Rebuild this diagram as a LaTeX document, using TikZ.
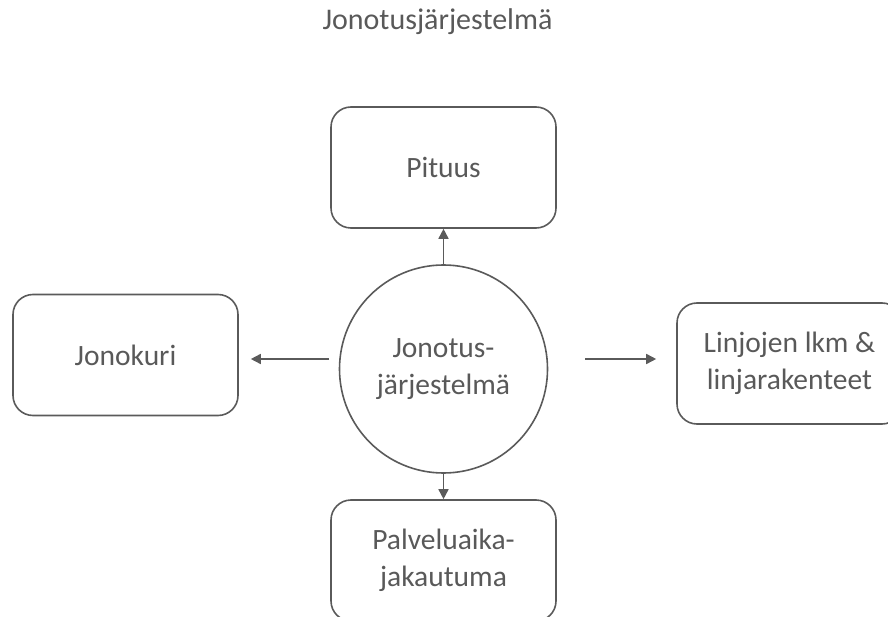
\documentclass[tikz,border=0pt]{standalone}
\usepackage{fontspec}
\setmainfont{Carlito}
\usetikzlibrary{arrows.meta}
\definecolor{linegray}{HTML}{5A5A5A}
\definecolor{textgray}{HTML}{595959}

\begin{document}
\begin{tikzpicture}[x=1pt, y=-1pt,
    box/.style={draw=linegray, line width=1.6pt, rounded corners=20pt,
                minimum width=225pt, minimum height=121pt, align=center,
                text=textgray, font=\fontsize{29.5}{37}\selectfont},
    hub/.style={draw=linegray, line width=1.6pt, circle, minimum size=208pt,
                inner sep=0pt, align=center, text=textgray,
                font=\fontsize{29.5}{37}\selectfont},
    arr/.style={draw=linegray, line width=1.6pt,
                -{Triangle[length=10pt, width=10pt]}}]

    \useasboundingbox (0,0) rectangle (888,617);

    \node (title) [text=textgray, font=\fontsize{30}{36}\selectfont] at (437.5,22) {Jonotusjärjestelmä};

    % keskus
    \node (hub) [hub] at (443.5,369) {Jonotus-\\järjestelmä};

    \node (pituus) [box] at (443.5,167.5) {Pituus};
    \node (jonokuri) [box] at (125.5,355) {Jonokuri};
    \node (linjat) [box] at (789.5,363.5) {Linjojen lkm \&\\linjarakenteet};
    \node (palvelu) [box] at (443.5,560.5) {Palveluaika-\\jakautuma};

    \draw [arr] (hub.north) -- (pituus.south);
    \draw [arr] (hub.south) -- (palvelu.north);
    \draw [arr, shorten <=9.5pt, shorten >=12pt] ([yshift=10pt]hub.west) -- ([yshift=10pt]hub.west -| jonokuri.east);
    \draw [arr, shorten <=37pt, shorten >=20pt] ([yshift=10pt]hub.east) -- ([yshift=10pt]hub.east -| linjat.west);
\end{tikzpicture}
\end{document}
